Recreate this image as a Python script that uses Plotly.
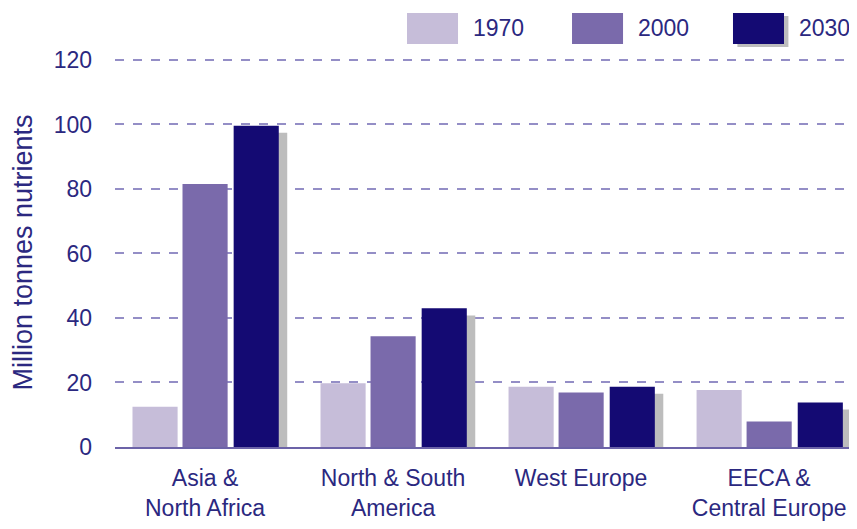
import plotly.graph_objects as go

categories = ["Asia &<br>North Africa", "North & South<br>America", "West Europe", "EECA &<br>Central Europe"]
years = ["1970", "2000", "2030"]
v1970 = [12.5, 19.8, 18.7, 17.7]
v2000 = [81.5, 34.3, 16.9, 7.9]
v2030 = [99.6, 43.0, 18.7, 13.8]
series = [v1970, v2000, v2030]
colors = ["#c6bdd9", "#7a6aab", "#140a73"]
yticks = [0, 20, 40, 60, 80, 100, 120]

FONT = "Liberation Sans Narrow, Arial Narrow, Liberation Sans, sans-serif"
TXT = "#2b2880"

x = list(range(len(categories)))
offsets = [-0.386, -0.12, 0.152]
W = 0.24

fig = go.Figure()
# drop shadow behind the 2030 bars
fig.add_trace(go.Bar(x=x, y=v2030, base=-2.2, offset=offsets[2] + 0.045, width=W,
                     marker=dict(color="#bdbdbd", line=dict(width=0)),
                     showlegend=False, hoverinfo="skip"))
for name, vals, col, off in zip(years, series, colors, offsets):
    fig.add_trace(go.Bar(x=x, y=vals, name=name, offset=off, width=W,
                         marker=dict(color=col, line=dict(width=0)), showlegend=False))

# custom legend with large swatches
sw_x = [0.3973, 0.6218, 0.8408]
for name, col, sx in zip(years, colors, sw_x):
    if name == "2030":
        fig.add_shape(type="rect", xref="paper", yref="paper", x0=sx + 0.006, x1=sx + 0.0694 + 0.006,
                      y0=1.036 - 0.008, y1=1.1157 - 0.008, fillcolor="#bdbdbd", line=dict(width=0))
    fig.add_shape(type="rect", xref="paper", yref="paper", x0=sx, x1=sx + 0.0694,
                  y0=1.036, y1=1.1157, fillcolor=col, line=dict(width=0))
    fig.add_annotation(xref="paper", yref="paper", x=sx + 0.0865, y=1.0771, text=name,
                       showarrow=False, xanchor="left", yanchor="middle",
                       font=dict(family=FONT, size=23, color=TXT))

fig.update_layout(
    width=849, height=513,
    margin=dict(l=107, r=7, t=50, b=74),
    barmode="overlay",
    plot_bgcolor="white", paper_bgcolor="white",
    font=dict(family=FONT, color=TXT),
    xaxis=dict(tickmode="array", tickvals=x, ticktext=categories,
               range=[-0.479, 3.43], showgrid=False, zeroline=False,
               showline=True, linecolor="#6c63a8", linewidth=2, automargin=False,
               ticks="", ticklabelstandoff=9,
               tickfont=dict(family=FONT, size=23, color=TXT)),
    yaxis=dict(range=[0, 120.6], tickvals=yticks, showgrid=True,
               gridcolor="#948ec6", griddash="dash", gridwidth=1.5, automargin=False,
               zeroline=False, showline=False, ticks="", ticklabelstandoff=22,
               tickfont=dict(family=FONT, size=23, color=TXT),
               title=dict(text="Million tonnes nutrients", standoff=16,
                          font=dict(family=FONT, size=27, color=TXT))),
)

fig.write_html("out.html")
